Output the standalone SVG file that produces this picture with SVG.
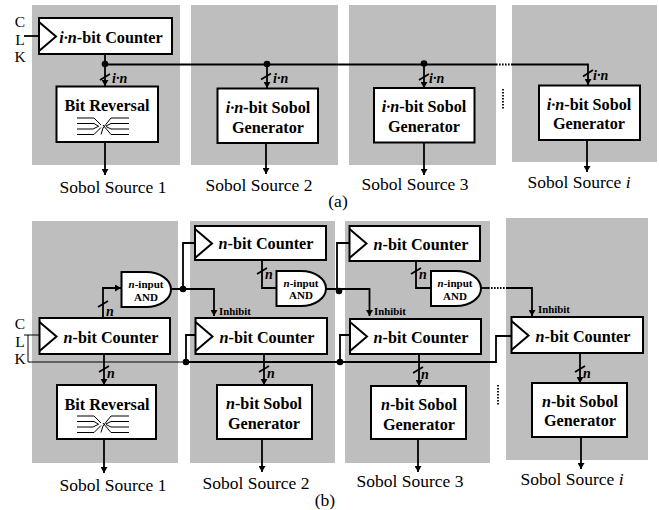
<svg xmlns="http://www.w3.org/2000/svg" width="659" height="510" viewBox="0 0 659 510">
<style>
text{font-family:"Liberation Serif","Times New Roman",serif;fill:#000}
.p{fill:#bebebe}
.b{fill:#fff;stroke:#000;stroke-width:2}
.t{font-weight:bold;font-size:16.2px;text-anchor:middle}
.s{font-size:17.5px;text-anchor:middle}
.k{font-size:15.5px;text-anchor:middle}
.n{font-weight:bold;font-style:italic;font-size:14px}
.i{font-weight:bold;font-size:10.8px}
.a{font-weight:bold;font-size:11px;text-anchor:middle}
.l{fill:none;stroke:#000;stroke-width:1.8}
.w{fill:none;stroke:#000;stroke-width:1}
.d{fill:none;stroke:#000;stroke-width:1.8;stroke-dasharray:1.6 1.4}
.c{fill:none;stroke:#000;stroke-width:2}
</style>
<defs>
<marker id="ah" markerUnits="userSpaceOnUse" markerWidth="7" markerHeight="7" refX="6" refY="3.5" orient="auto"><path d="M0,0L6,3.5L0,7z" fill="#000"/></marker>
<g id="rev"><path class="w" d="M0,0H17L24,7M0,5.500H17L22,8.500M0,11H16L21,8.500M0,16.500H17L24,9.500M52,0H34L26,10L24,16.500M52,5.500H34L29,8M52,11H34L29,8.500M52,16.500H34L26,7"/></g>
<g id="cnt"><path class="c" d="M0,4L17,18.500L0,33"/></g>
</defs>
<g id="panels">
<rect class="p" x="32" y="5" width="148" height="160"/><rect class="p" x="191" y="5" width="147" height="160"/><rect class="p" x="349" y="5" width="147" height="160"/><rect class="p" x="512" y="5" width="145" height="157"/>
<rect class="p" x="32" y="221" width="146" height="242"/><rect class="p" x="190" y="221" width="145" height="242"/><rect class="p" x="345" y="221" width="145" height="242"/><rect class="p" x="506" y="218" width="142" height="242"/>
</g>
<g id="connectors">
<path class="l" d="M24,36H39"/>
<path class="l" d="M105,54V86" marker-end="url(#ah)"/>
<path class="l" d="M105,64.500H496"/><path class="d" d="M496,64.500H512"/>
<path class="l" d="M512,64.500H588V85" marker-end="url(#ah)"/>
<path class="l" d="M267,64.500V88" marker-end="url(#ah)"/>
<path class="l" d="M424,64.500V88" marker-end="url(#ah)"/>
<path class="l" d="M100,80L110,74M261,79.500L271,73.500M419,80L429,74M583,76.500L593,70"/>
<path class="l" d="M105,142V175" marker-end="url(#ah)"/>
<path class="l" d="M266,143V174" marker-end="url(#ah)"/>
<path class="l" d="M424,142V175" marker-end="url(#ah)"/>
<path class="l" d="M587,140V172" marker-end="url(#ah)"/>
<path class="d" d="M503,89V109"/>
<circle cx="105" cy="64" r="3.300"/><circle cx="267" cy="64" r="3.300"/><circle cx="424" cy="63.500" r="3.300"/>

<path class="w" d="M24,335H39M28,335V362H186"/>
<path class="l" d="M103,318V288H121" marker-end="url(#ah)"/>
<path class="l" d="M98,307L108,301"/>
<path class="l" d="M171,289H214V316" marker-end="url(#ah)"/>
<path class="l" d="M183,289V243H195"/>
<path class="l" d="M186,362H496V336H511"/>
<path class="l" d="M186,362V335H195"/>
<path class="l" d="M340,362V335H350"/>
<path class="l" d="M262,260V288H276"/>
<path class="l" d="M257,274L267,268"/>
<path class="l" d="M326,289H369.500V316" marker-end="url(#ah)"/>
<path class="l" d="M337,289V243H349"/>
<path class="l" d="M416,261V288H431"/>
<path class="l" d="M411,274L421,268"/>
<path class="l" d="M481,288H488"/><path class="d" d="M488,288H506"/>
<path class="l" d="M506,288H532V316" marker-end="url(#ah)"/>
<path class="l" d="M104,354V385" marker-end="url(#ah)"/>
<path class="l" d="M264,354V385" marker-end="url(#ah)"/>
<path class="l" d="M419,354V386" marker-end="url(#ah)"/>
<path class="l" d="M580,353V383" marker-end="url(#ah)"/>
<path class="l" d="M99,372L109,366M259,372L269,366M413,373L423,367M575,372L585,366"/>
<path class="l" d="M104,439V473" marker-end="url(#ah)"/>
<path class="l" d="M262,439V472" marker-end="url(#ah)"/>
<path class="l" d="M418,439V472" marker-end="url(#ah)"/>
<path class="l" d="M581,437V469" marker-end="url(#ah)"/>
<path class="d" d="M498,385V405"/>
<circle cx="183" cy="289" r="3.300"/><circle cx="339" cy="291" r="3.300"/><circle cx="186" cy="362" r="3.300"/><circle cx="340" cy="362" r="3.300"/>
</g>
<g id="a-clk"><text class="k" x="20" y="27">C</text><text class="k" x="20" y="45">L</text><text class="k" x="20" y="62">K</text></g>
<g id="a-counter"><rect class="b" x="39" y="18" width="133" height="36"/><use href="#cnt" x="39" y="18"/><text class="t" x="111" y="43"><tspan font-style="italic">i·n</tspan>-bit Counter</text></g>
<g id="a-rev"><rect class="b" x="56.500" y="86.500" width="101.500" height="55.500"/><text class="t" x="107" y="111">Bit Reversal</text><use href="#rev" x="77" y="118"/></g>
<g id="a-gen2"><rect class="b" x="217.500" y="88.500" width="100.500" height="54.500"/><text class="t" x="268" y="113"><tspan font-style="italic">i·n</tspan>-bit Sobol</text><text class="t" x="268" y="133">Generator</text></g>
<g id="a-gen3"><rect class="b" x="374" y="88" width="100.500" height="54.500"/><text class="t" x="424" y="112"><tspan font-style="italic">i·n</tspan>-bit Sobol</text><text class="t" x="424" y="132">Generator</text></g>
<g id="a-gen4"><rect class="b" x="539" y="85.500" width="101" height="54.500"/><text class="t" x="589" y="110"><tspan font-style="italic">i·n</tspan>-bit Sobol</text><text class="t" x="589" y="129">Generator</text></g>
<g id="a-labels">
<text class="n" x="112" y="83">i·n</text><text class="n" x="273" y="83">i·n</text><text class="n" x="429" y="83">i·n</text><text class="n" x="593" y="80">i·n</text>
<text class="s" x="113" y="193">Sobol Source 1</text><text class="s" x="259" y="191">Sobol Source 2</text><text class="s" x="415" y="190">Sobol Source 3</text><text class="s" x="579" y="188">Sobol Source <tspan font-style="italic">i</tspan></text>
<text class="s" x="338" y="207">(a)</text></g>

<g id="b-clk"><text class="k" x="20" y="329">C</text><text class="k" x="20" y="347">L</text><text class="k" x="20" y="364">K</text></g>
<g id="b-c1"><rect class="b" x="39.500" y="318" width="130.500" height="36"/><use href="#cnt" x="39.500" y="318"/><text class="t" x="111" y="343"><tspan font-style="italic">n</tspan>-bit Counter</text></g>
<g id="b-rev"><rect class="b" x="57" y="385" width="99" height="54"/><text class="t" x="107" y="410">Bit Reversal</text><use href="#rev" x="77" y="416"/></g>
<g id="b-and1"><path class="b" d="M121.500,272H146C160,272 171,280 171,289.500C171,299 160,307 146,307H121.500z"/><text class="a" x="146" y="288"><tspan font-style="italic">n</tspan>-input</text><text class="a" x="146" y="301">AND</text></g>
<g id="b-c2u"><rect class="b" x="195" y="226" width="131" height="34"/><use href="#cnt" x="195" y="225"/><text class="t" x="266" y="249"><tspan font-style="italic">n</tspan>-bit Counter</text></g>
<g id="b-c2l"><rect class="b" x="195.500" y="318" width="131.500" height="36"/><use href="#cnt" x="195.500" y="318"/><text class="t" x="267" y="343"><tspan font-style="italic">n</tspan>-bit Counter</text></g>
<g id="b-and2"><path class="b" d="M276.500,271H301C315,271 326,279 326,288.500C326,298 315,306 301,306H276.500z"/><text class="a" x="301" y="287"><tspan font-style="italic">n</tspan>-input</text><text class="a" x="301" y="299">AND</text></g>
<g id="b-gen2"><rect class="b" x="217" y="385" width="95" height="54"/><text class="t" x="264" y="409"><tspan font-style="italic">n</tspan>-bit Sobol</text><text class="t" x="264" y="429">Generator</text></g>
<g id="b-c3u"><rect class="b" x="349.500" y="226" width="130.500" height="35"/><use href="#cnt" x="349.500" y="225"/><text class="t" x="421" y="250"><tspan font-style="italic">n</tspan>-bit Counter</text></g>
<g id="b-c3l"><rect class="b" x="350" y="319" width="131" height="35"/><use href="#cnt" x="350" y="318"/><text class="t" x="421" y="343"><tspan font-style="italic">n</tspan>-bit Counter</text></g>
<g id="b-and3"><path class="b" d="M431,271H456C470,271 481,279 481,288.500C481,298 470,306 456,306H431z"/><text class="a" x="455" y="287"><tspan font-style="italic">n</tspan>-input</text><text class="a" x="455" y="300">AND</text></g>
<g id="b-gen3"><rect class="b" x="371" y="386" width="95" height="53"/><text class="t" x="419" y="410"><tspan font-style="italic">n</tspan>-bit Sobol</text><text class="t" x="419" y="430">Generator</text></g>
<g id="b-c4"><rect class="b" x="511.500" y="317" width="131.500" height="36"/><use href="#cnt" x="511.500" y="317"/><text class="t" x="583" y="342"><tspan font-style="italic">n</tspan>-bit Counter</text></g>
<g id="b-gen4"><rect class="b" x="532" y="383" width="95" height="54"/><text class="t" x="580" y="407"><tspan font-style="italic">n</tspan>-bit Sobol</text><text class="t" x="580" y="426">Generator</text></g>
<g id="b-labels">
<text class="n" x="106" y="316">n</text><text class="n" x="265" y="279">n</text><text class="n" x="419" y="279">n</text>
<text class="n" x="107" y="378">n</text><text class="n" x="267" y="378">n</text><text class="n" x="421" y="379">n</text><text class="n" x="583" y="378">n</text>
<text class="i" x="219" y="315">Inhibit</text><text class="i" x="374" y="315">Inhibit</text><text class="i" x="538" y="313">Inhibit</text>
<text class="s" x="113" y="491">Sobol Source 1</text><text class="s" x="256" y="489">Sobol Source 2</text><text class="s" x="410" y="487">Sobol Source 3</text><text class="s" x="572" y="485">Sobol Source <tspan font-style="italic">i</tspan></text>
<text class="s" x="325" y="506">(b)</text></g>
</svg>
